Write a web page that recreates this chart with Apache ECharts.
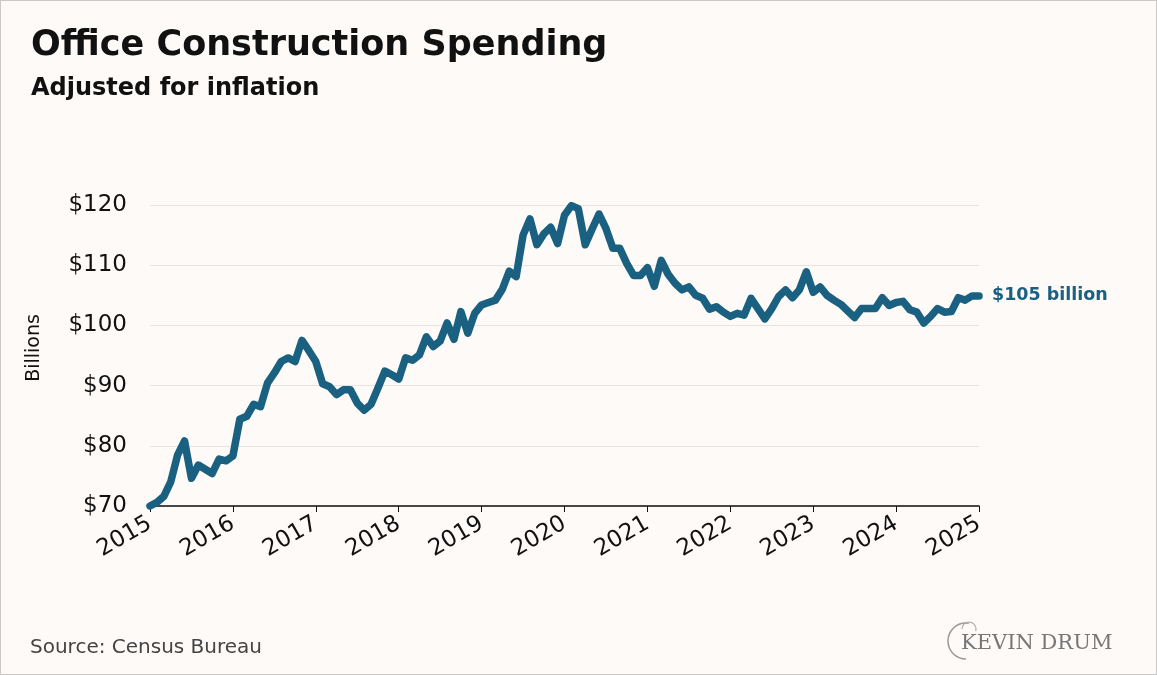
<!DOCTYPE html>
<html>
<head>
<meta charset="utf-8">
<script src="https://cdn.jsdelivr.net/npm/echarts@6/dist/echarts.min.js"></script>
<style>
  html, body { margin: 0; padding: 0; background: #fdfaf8; }
  #chart { width: 1157px; height: 675px; box-sizing: border-box; border: 1px solid #c9c9c9; }
</style>
</head>
<body>
<div id="chart"></div>
<script>
// Monthly values, Jan 2015 .. Jan 2025 (billions, inflation-adjusted)
const startYear = 2015;
const values2015 = [70.0, 70.6, 71.6, 74.0, 78.5, 80.8, 74.6, 76.8, 76.1, 75.4, 77.8, 77.5];
const values2016 = [78.3, 84.4, 84.9, 86.9, 86.5, 90.4, 92.1, 94.0, 94.6, 94.0, 97.5, 95.8];
const values2017 = [94.0, 90.3, 89.8, 88.5, 89.3, 89.3, 87.1, 85.9, 86.9, 89.6, 92.4, 91.8];
const values2018 = [91.1, 94.6, 94.2, 95.1, 98.1, 96.5, 97.4, 100.4, 97.7, 102.3, 98.7, 102.0];
const values2019 = [103.4, 103.8, 104.2, 106.0, 109.0, 108.1, 115.0, 117.7, 113.4, 115.2, 116.3, 113.6];
const values2020 = [118.3, 119.9, 119.4, 113.4, 116.0, 118.5, 116.1, 112.8, 112.8, 110.3, 108.3, 108.3];
const values2021 = [109.6, 106.5, 110.8, 108.5, 107.0, 105.9, 106.4, 105.0, 104.5, 102.7, 103.1, 102.2];
const values2022 = [101.5, 102.0, 101.7, 104.5, 102.8, 101.1, 102.8, 104.8, 105.9, 104.6, 105.9, 108.9];
const values2023 = [105.5, 106.4, 105.0, 104.2, 103.5, 102.4, 101.3, 102.8, 102.8, 102.8, 104.6, 103.3];
const values2024 = [103.8, 104.0, 102.6, 102.2, 100.4, 101.5, 102.8, 102.2, 102.3, 104.6, 104.2, 104.9];
const values2025 = [104.9];

const values = [].concat(values2015, values2016, values2017, values2018, values2019,
  values2020, values2021, values2022, values2023, values2024, values2025);

const yTicks = [70, 80, 90, 100, 110, 120];
const xTicks = [2015, 2016, 2017, 2018, 2019, 2020, 2021, 2022, 2023, 2024, 2025];

const titleText = 'Office Construction Spending';
const subtitleText = 'Adjusted for inflation';
const yAxisName = 'Billions';
const endLabelText = '$105 billion';
const sourceText = 'Source: Census Bureau';
const logoText = 'KEVIN DRUM';

const seriesData = values.map((v, i) => [startYear + i / 12, v]);

const FONT = '"DejaVu Sans", sans-serif';
const LINE_COLOR = '#1a6080';

const chart = echarts.init(document.getElementById('chart'));
chart.setOption({
  backgroundColor: '#fdfaf8',
  animation: false,
  title: [
    { text: titleText, left: 25, top: 22,
      textStyle: { fontFamily: FONT, fontWeight: 'bold', fontSize: 35, color: '#111' } },
    { text: subtitleText, left: 25, top: 71,
      textStyle: { fontFamily: FONT, fontWeight: 'bold', fontSize: 24, color: '#111' } }
  ],
  grid: { left: 149, right: 177, top: 204, bottom: 168, containLabel: false, outerBoundsMode: 'none' },
  xAxis: {
    type: 'value',
    min: xTicks[0], max: xTicks[xTicks.length - 1], interval: 1,
    axisLine: { show: true, lineStyle: { color: '#111', width: 1.5 } },
    axisTick: { show: true, length: 6, lineStyle: { color: '#111', width: 1 } },
    splitLine: { show: false },
    axisLabel: {
      rotate: 30, margin: 16, fontFamily: FONT, fontSize: 23, color: '#111',
      formatter: v => String(Math.round(v))
    }
  },
  yAxis: {
    type: 'value',
    min: yTicks[0], max: yTicks[yTicks.length - 1], interval: 10,
    axisLine: { show: false },
    axisTick: { show: false },
    splitLine: { show: true, lineStyle: { color: '#e6e3e0', width: 1 } },
    axisLabel: { margin: 23, fontFamily: FONT, fontSize: 23, color: '#111',
      formatter: v => '$' + v }
  },
  series: [{
    type: 'line',
    data: seriesData,
    showSymbol: false,
    symbol: 'none',
    lineStyle: { color: LINE_COLOR, width: 7.5, join: 'round', cap: 'round' },
    itemStyle: { color: LINE_COLOR },
    endLabel: {
      show: true, formatter: () => endLabelText, distance: 13,
      fontFamily: FONT, fontWeight: 'bold', fontSize: 17.5, color: LINE_COLOR
    }
  }],
  graphic: [
    { type: 'text', x: 33, y: 347, rotation: Math.PI / 2,
      style: { text: yAxisName, fontFamily: FONT, fontSize: 19, fill: '#111',
        align: 'center', verticalAlign: 'middle' } },
    { type: 'text', left: 29, top: 637,
      style: { text: sourceText, fontFamily: FONT, fontSize: 20, fill: '#444' } },
    { type: 'text', left: 960, top: 632,
      style: { text: logoText, fontFamily: '"DejaVu Serif", serif', fontSize: 21, fill: '#777' } },
    { type: 'arc', shape: { cx: 965, cy: 640, r: 18, startAngle: Math.PI * 0.5, endAngle: Math.PI * 1.55 },
      style: { stroke: '#999', lineWidth: 1.5, fill: null } },
    { type: 'arc', shape: { cx: 968, cy: 628, r: 7, startAngle: Math.PI * 1.0, endAngle: Math.PI * 2.1 },
      style: { stroke: '#aaa', lineWidth: 1.2, fill: null } }
  ]
});
</script>
</body>
</html>
